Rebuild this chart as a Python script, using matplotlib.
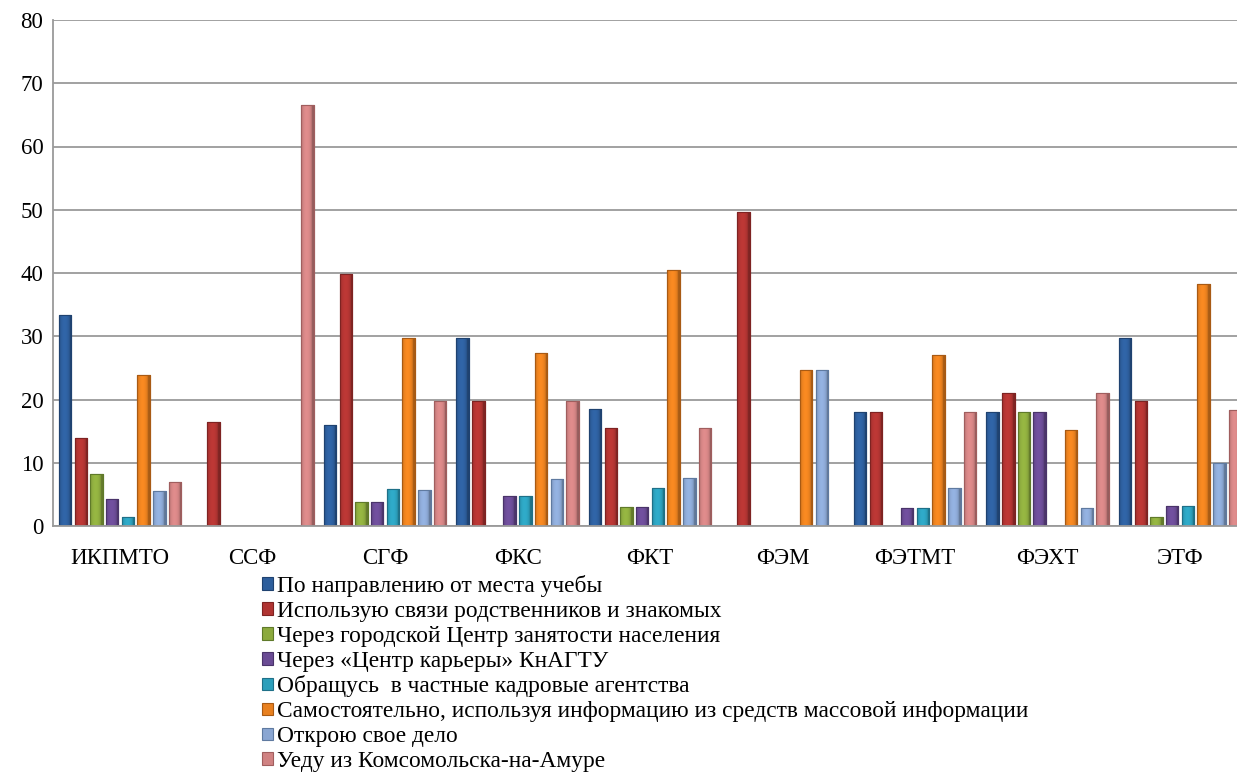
import matplotlib
matplotlib.use("Agg")
import matplotlib.pyplot as plt
import numpy as np
from matplotlib.patches import Patch
from matplotlib.colors import to_rgb

plt.rcParams['font.family'] = ['Liberation Serif', 'DejaVu Serif']

categories = ["ИКПМТО", "ССФ", "СГФ", "ФКС", "ФКТ", "ФЭМ", "ФЭТМТ", "ФЭХТ", "ЭТФ"]

series_names = [
    "По направлению от места учебы",
    "Использую связи родственников и знакомых",
    "Через городской Центр занятости населения",
    "Через «Центр карьеры» КнАГТУ",
    "Обращусь  в частные кадровые агентства",
    "Самостоятельно, используя информацию из средств массовой информации",
    "Открою свое дело",
    "Уеду из Комсомольска-на-Амуре",
]

napravlenie = [33.4, 0, 15.9, 29.8, 18.5, 0, 18.1, 18.1, 29.8]
svyazi      = [13.9, 16.4, 39.8, 19.8, 15.5, 49.7, 18.1, 21.1, 19.8]
gorod_centr = [8.3, 0, 3.8, 0, 3.0, 0, 0, 18.1, 1.5]
centr_kar   = [4.2, 0, 3.8, 4.8, 3.0, 0, 2.9, 18.1, 3.2]
agentstva   = [1.4, 0, 5.8, 4.8, 6.0, 0, 2.9, 0, 3.2]
smi         = [23.8, 0, 29.8, 27.3, 40.4, 24.7, 27.1, 15.1, 38.2]
svoe_delo   = [5.6, 0, 5.7, 7.4, 7.6, 24.7, 6.0, 2.9, 9.9]
uedu        = [6.9, 66.6, 19.8, 19.8, 15.5, 0, 18.1, 21.1, 18.4]

series = [napravlenie, svyazi, gorod_centr, centr_kar, agentstva, smi, svoe_delo, uedu]
colors = ["#2D5E9C", "#B03432", "#8CAA3E", "#6A4B94", "#2C9FBB", "#E8801F", "#8AA6D2", "#D08282"]
edges  = ["#1F4270", "#7E2322", "#5F7A2A", "#4A346A", "#1F7088", "#A85A14", "#5F7AA0", "#A05E5E"]


def gradient_for(color, n=32):
    base = np.array(to_rgb(color))
    t = np.linspace(0, 1, n)
    shade = 0.80 + 0.28 * np.sin(np.pi * np.clip(t * 1.15, 0, 1)) ** 0.5
    shade[t > 0.85] -= 0.08
    rgb = np.clip(base[None, :] * shade[:, None], 0, 1)
    return rgb[None, :, :]


W, H = 1237, 772
fig = plt.figure(figsize=(W / 100, H / 100), dpi=100)
ax = fig.add_axes([53 / W, (772 - 526) / H, 1 - 53 / W, (526 - 20) / H])

x = np.arange(len(categories))
step = 0.1185
width = 0.094
for i, (vals, c, ec) in enumerate(zip(series, colors, edges)):
    pos = x + (i - 3.5) * step
    v = np.array(vals, dtype=float)
    mask = v > 0
    bars = ax.bar(pos[mask], v[mask], width=width, color=c, edgecolor=ec, linewidth=0.8, zorder=3)
    grad = gradient_for(c)
    for b in bars:
        x0, w, h = b.get_x(), b.get_width(), b.get_height()
        im = ax.imshow(grad, extent=[x0, x0 + w, 0, h], aspect='auto',
                       interpolation='bilinear', zorder=3.5)
        im.set_clip_path(b)
        ax.bar(x0 + w / 2, h, width=w, fill=False, edgecolor=ec, linewidth=0.8, zorder=4)

ax.set_ylim(0, 80)
ax.set_xlim(-0.506, 8.43)
ax.set_yticks(np.arange(0, 81, 10))
ax.yaxis.grid(True, color="#9A9A9A", linewidth=1.3, zorder=0)
ax.set_axisbelow(True)
ax.set_xticks(x)
ax.set_xticklabels(categories)
ax.tick_params(axis='both', length=0, labelsize=16.5, colors="black")
ax.tick_params(axis='x', pad=15.5)
ax.tick_params(axis='y', pad=7)
for s in ["top", "right"]:
    ax.spines[s].set_visible(False)
for s in ["left", "bottom"]:
    ax.spines[s].set_color("#9A9A9A")
    ax.spines[s].set_linewidth(1.3)
    ax.spines[s].set_zorder(5)

handles = [Patch(facecolor=c, edgecolor=ec, linewidth=0.8) for c, ec in zip(colors, edges)]
fig.legend(handles, series_names, loc="upper left",
           bbox_to_anchor=(262 / W, 1 - 575 / H), frameon=False,
           fontsize=16.8, handlelength=0.45, handleheight=0.45,
           handletextpad=0.2, labelspacing=0.165, borderpad=0, borderaxespad=0)

fig.savefig("out.png", dpi=100)
